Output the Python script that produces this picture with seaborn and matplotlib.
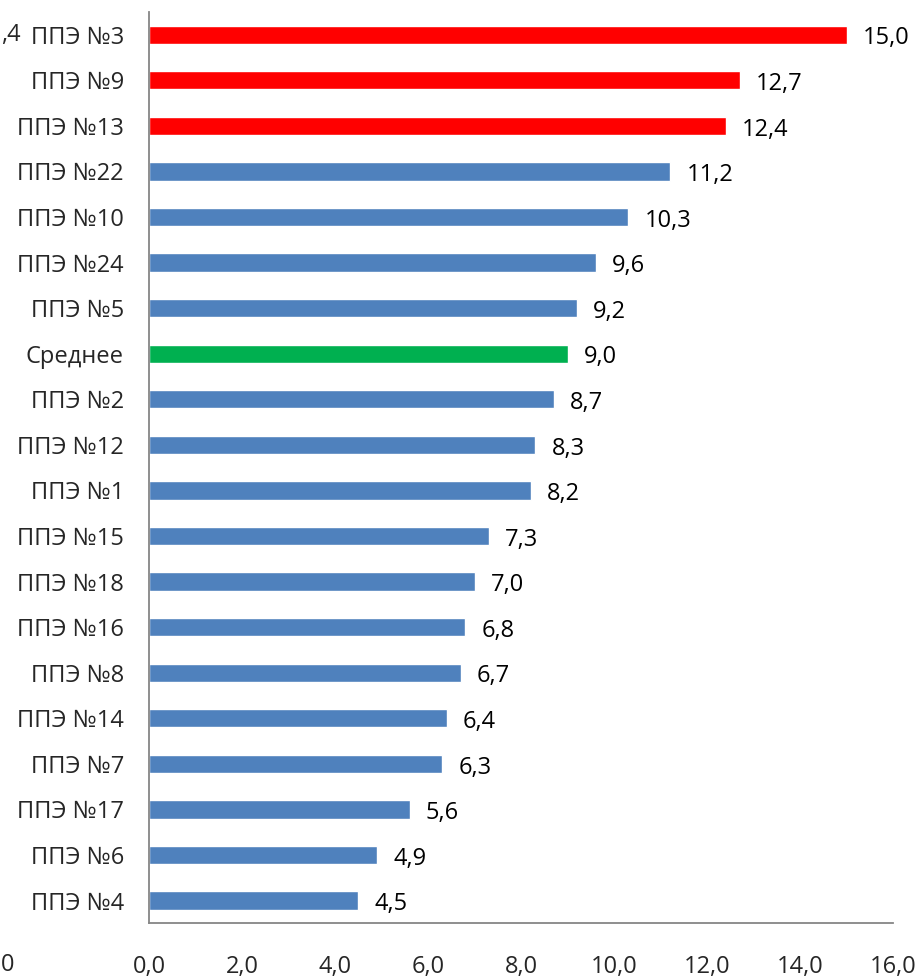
import numpy as np
import pandas as pd
import matplotlib
matplotlib.use("Agg")
import matplotlib.pyplot as plt
import seaborn as sns

categories = ["ППЭ №3", "ППЭ №9", "ППЭ №13", "ППЭ №22", "ППЭ №10", "ППЭ №24",
              "ППЭ №5", "Среднее", "ППЭ №2", "ППЭ №12", "ППЭ №1", "ППЭ №15",
              "ППЭ №18", "ППЭ №16", "ППЭ №8", "ППЭ №14", "ППЭ №7", "ППЭ №17",
              "ППЭ №6", "ППЭ №4"]
values = [15.0, 12.7, 12.4, 11.2, 10.3, 9.6, 9.2, 9.0, 8.7, 8.3, 8.2, 7.3,
          7.0, 6.8, 6.7, 6.4, 6.3, 5.6, 4.9, 4.5]
x_ticks = [0, 2, 4, 6, 8, 10, 12, 14, 16]

RED = "#FF0000"
GREEN = "#00B050"
BLUE = "#4F81BD"
colors = [RED, RED, RED] + [BLUE] * 4 + [GREEN] + [BLUE] * 12

sns.set_style("white")
plt.rcParams["font.family"] = ["Open Sans", "DejaVu Sans"]
FS = 17
AXIS = "#868686"

df = pd.DataFrame({"cat": categories, "val": values})

fig = plt.figure(figsize=(9.22, 9.8), dpi=100)
ax = fig.add_axes([0.1616, 0.0578, 0.969 - 0.1616, 0.9878 - 0.0578])

sns.barplot(data=df, x="val", y="cat", hue="cat", palette=colors,
            order=categories, hue_order=categories, legend=False,
            width=0.4, saturation=1, orient="h", ax=ax)

for i, v in enumerate(values):
    ax.text(v + 0.35, i + 0.08, f"{v:.1f}".replace(".", ","), va="center",
            ha="left", fontsize=FS, color="black")

ax.set_xlim(0, 16)
ax.set_ylim(len(categories) - 0.5, -0.5)
ax.set_xticks(x_ticks)
ax.set_xticklabels([f"{t:.1f}".replace(".", ",") for t in x_ticks], fontsize=FS)
ax.set_yticks(range(len(categories)))
ax.set_yticklabels(categories, fontsize=FS)
ax.set_yticks(np.arange(-0.5, len(categories), 1), minor=True)
ax.tick_params(axis="y", which="major", length=0, pad=18)
ax.tick_params(axis="y", which="minor", length=6, width=1.3, color=AXIS, direction="out")
ax.tick_params(axis="x", length=6, width=1.3, color=AXIS, direction="out", pad=17)
ax.set_xlabel("")
ax.set_ylabel("")
for s in ["top", "right"]:
    ax.spines[s].set_visible(False)
for s in ["left", "bottom"]:
    ax.spines[s].set_color(AXIS)
    ax.spines[s].set_linewidth(1.3)
ax.grid(False)

# fragments from the neighbouring chart at the left edge
fig.text(0.001, 1 - 35 / 980, ",4", fontsize=FS, va="center", ha="left")
fig.text(0.001, 1 - 965 / 980, "0", fontsize=FS, va="center", ha="left")

fig.savefig("out.png", dpi=100)
